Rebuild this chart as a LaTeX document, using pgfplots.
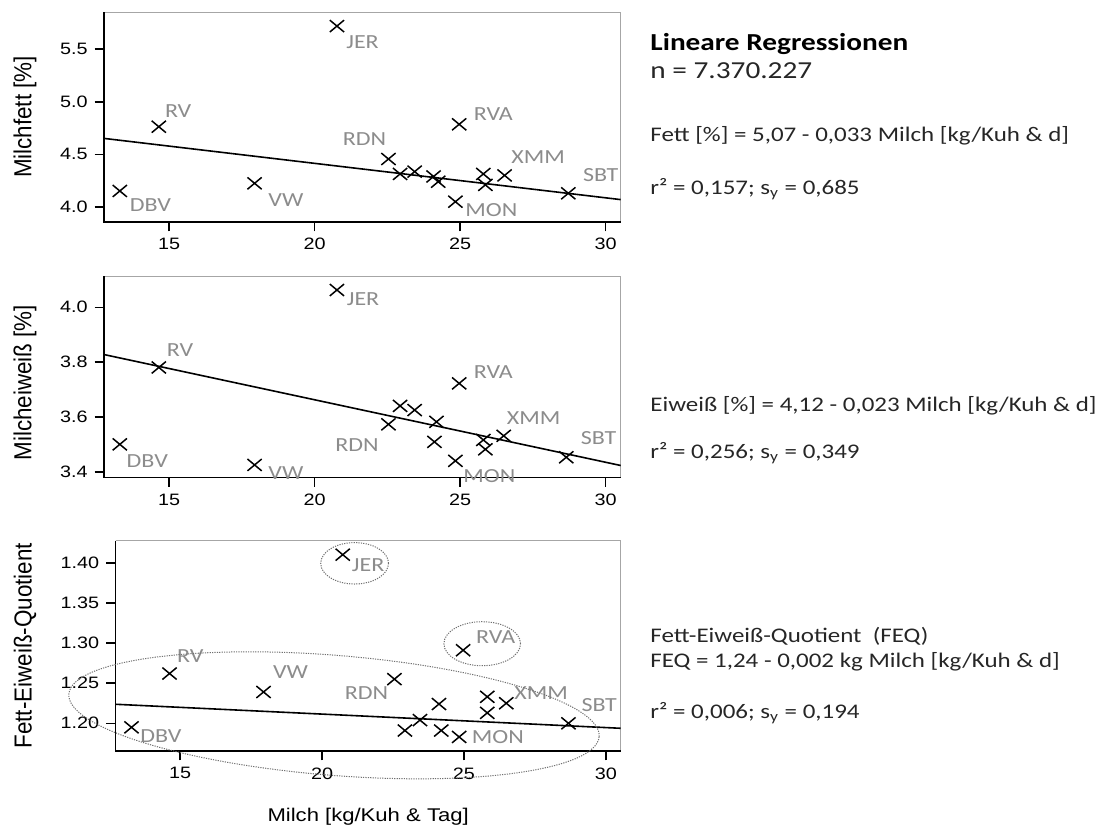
\documentclass[border=0pt]{standalone}
\usepackage{fontspec}
\usepackage{graphicx}
\usepackage{pgfplots}
\pgfplotsset{compat=1.18}
\setmainfont{Carlito}[FakeStretch=1.2]
\newfontfamily\arialS{Liberation Sans}[FakeStretch=1.2]
\newfontfamily\arialN{Liberation Sans}
\definecolor{labgray}{HTML}{8C8C8C}
\definecolor{boxgray}{HTML}{A6A6A6}
\definecolor{ellgray}{HTML}{707070}
\definecolor{txt}{HTML}{262626}

\newcommand{\lab}[6]{\node[anchor=#3, inner sep=0pt, xshift={#4*0.5pt}, yshift={-#5*0.5pt}, text=labgray, font=\fontsize{10}{12}\selectfont] at (axis cs:#1,#2) {#6};}
\newcommand{\boxit}{%
  \draw[boxgray, line width=0.5pt] (rel axis cs:0,1) -- (rel axis cs:1,1) -- (rel axis cs:1,0);
  \draw[black, line width=0.8pt] (rel axis cs:0,1) -- (rel axis cs:0,0) -- (rel axis cs:1,0);}
\newcommand{\ylab}[1]{\scalebox{1}[1.1]{\arialN\fontsize{11.2}{13}\selectfont #1}}

\pgfplotsset{panel/.style={
  scale only axis, axis line style={draw=none}, clip=false,
  tick align=outside, xtick pos=bottom, ytick pos=left,
  major tick length=4.7pt,
  every tick/.style={black, line width=0.8pt},
  tick label style={font=\arialS\fontsize{8.25}{10}\selectfont, text=black},
  /pgf/number format/assume math mode=true,
  xtick={15,20,25,30}, xticklabels={15,20,25,30},
  ylabel style={at={(rel axis cs:0,0.5)}, anchor=center},
}}
\tikzset{pts/.style={only marks, mark=x, mark size=4.2pt, black, mark options={xscale=1.2, line width=0.75pt}},
         reg/.style={black, line width=0.8pt, no marks}}

\begin{document}
\begin{tikzpicture}
\path[use as bounding box] (0,0) rectangle (553pt,-415pt);

% Panel 1
\begin{axis}[panel, at={(52pt,-6pt)}, anchor=north west,
  width=258.35pt, height=105pt,
  xmin=12.766, xmax=30.52, ymin=3.857, ymax=5.854,
  ytick={4.0,4.5,5.0,5.5}, yticklabels={4.0,4.5,5.0,5.5},
  ylabel={\ylab{Milchfett [\%]}},
  ylabel style={yshift=39.5pt}]
\boxit
\addplot[reg] coordinates {(12.766,4.652) (30.52,4.07)};
\addplot[pts] coordinates {
(13.31,4.152) (14.65,4.763) (17.94,4.225) (20.77,5.72) (22.54,4.456)
(22.94,4.314) (23.44,4.336) (24.09,4.29) (24.25,4.24) (24.84,4.05)
(24.97,4.786) (25.80,4.314) (25.87,4.21) (26.53,4.30) (28.72,4.13)};
\lab{20.77}{5.72}{base west}{9}{22.6}{JER}
\lab{14.65}{4.763}{base west}{5.8}{-9.7}{RV}
\lab{13.31}{4.152}{base west}{9.6}{20.7}{DBV}
\lab{17.94}{4.225}{base west}{13.5}{23.4}{VW}
\lab{22.54}{4.456}{base east}{-1.9}{-14}{RDN}
\lab{24.97}{4.786}{base west}{14.2}{-4.3}{RVA}
\lab{26.53}{4.30}{base west}{6.5}{-11.7}{XMM}
\lab{28.72}{4.13}{base west}{14.4}{-11.6}{SBT}
\lab{24.84}{4.05}{base west}{9.6}{14.3}{MON}
\end{axis}

% Panel 2
\begin{axis}[panel, at={(52pt,-138pt)}, anchor=north west,
  width=258.35pt, height=100.65pt,
  xmin=12.766, xmax=30.52, ymin=3.381, ymax=4.114,
  ytick={3.4,3.6,3.8,4.0}, yticklabels={3.4,3.6,3.8,4.0},
  ylabel={\ylab{Milcheiweiß [\%]}},
  ylabel style={yshift=39.5pt, xshift=-3pt}]
\boxit
\addplot[reg] coordinates {(12.766,3.828) (30.52,3.424)};
\addplot[pts] coordinates {
(13.31,3.501) (14.65,3.781) (17.94,3.426) (20.77,4.063) (22.54,3.574)
(22.94,3.641) (23.44,3.626) (24.19,3.583) (24.12,3.510) (24.84,3.441)
(24.97,3.723) (25.80,3.517) (25.87,3.483) (26.50,3.532) (28.65,3.454)};
\lab{20.77}{4.063}{base west}{9.5}{15}{JER}
\lab{14.65}{3.781}{base west}{7.7}{-10.6}{RV}
\lab{13.31}{3.501}{base west}{6.5}{23}{DBV}
\lab{17.94}{3.426}{base west}{13.5}{15}{VW}
\lab{22.54}{3.574}{base east}{-9.5}{26.7}{RDN}
\lab{24.97}{3.723}{base west}{14.2}{-5}{RVA}
\lab{26.50}{3.532}{base west}{2.7}{-11.7}{XMM}
\lab{28.65}{3.454}{base west}{14.3}{-12.3}{SBT}
\lab{24.84}{3.441}{base west}{7.6}{22}{MON}
\end{axis}

% Panel 3
\begin{axis}[panel, at={(57.8pt,-270.35pt)}, anchor=north west,
  width=252.55pt, height=105.15pt,
  xmin=12.73, xmax=30.52, ymin=1.1655, ymax=1.4274,
  ytick={1.20,1.25,1.30,1.35,1.40}, yticklabels={1.20,1.25,1.30,1.35,1.40},
  ylabel={\ylab{Fett-Eiweiß-Quotient}},
  ylabel style={yshift=45.3pt},
  xlabel={\arialS\fontsize{9.2}{11}\selectfont Milch [kg/Kuh \& Tag]},
  xlabel style={at={(rel axis cs:0.5,0)}, anchor=base, yshift=-35.35pt}]
\boxit
\addplot[reg] coordinates {(12.73,1.2237) (30.52,1.1938)};
\addplot[pts] coordinates {
(13.29,1.195) (14.63,1.262) (17.94,1.239) (20.73,1.410) (22.55,1.255)
(22.92,1.191) (23.45,1.204) (24.12,1.224) (24.20,1.191) (24.83,1.183)
(24.97,1.291) (25.82,1.233) (25.82,1.213) (26.49,1.225) (28.68,1.200)};
\lab{20.73}{1.410}{base west}{8.8}{16.7}{JER}
\lab{14.63}{1.262}{base west}{7.3}{-11.3}{RV}
\lab{13.29}{1.195}{base west}{8.4}{15.4}{DBV}
\lab{17.94}{1.239}{base west}{9.2}{-13.4}{VW}
\lab{22.55}{1.255}{base east}{-5.8}{20.7}{RDN}
\lab{24.97}{1.291}{base west}{12.7}{-6.7}{RVA}
\lab{26.49}{1.225}{base west}{7.7}{-3.3}{XMM}
\lab{28.68}{1.200}{base west}{12.7}{-11.6}{SBT}
\lab{24.83}{1.183}{base west}{12.3}{6.7}{MON}
\end{axis}

\begin{scope}[x=0.5pt,y=-0.5pt]
\draw[ellgray, line width=0.5pt, dash pattern=on 0.6pt off 0.6pt] (354.6,563.3) ellipse [x radius=16.95pt, y radius=10.35pt];
\draw[ellgray, line width=0.5pt, dash pattern=on 0.6pt off 0.6pt] (482.2,643.7) ellipse [x radius=19.15pt, y radius=11pt];
\draw[ellgray, line width=0.5pt, dash pattern=on 0.6pt off 0.6pt, rotate around={-4.6:(334,715.3)}] (334,715.3) ellipse [x radius=133pt, y radius=30pt];

\begin{scope}[every node/.style={anchor=base west, inner sep=0pt, text=txt, font=\fontsize{10.4}{12}\selectfont}]
\node[text=black, font=\fontsize{12.2}{14}\selectfont\bfseries] at (650,50.7) {Lineare Regressionen};
\node[font=\fontsize{12.2}{14}\selectfont] at (650,78) {n = 7.370.227};
\node at (650,141) {Fett [\%] = 5,07 - 0,033 Milch [kg/Kuh \& d]};
\node at (650,194) {r² = 0,157; s\textsubscript{y} = 0,685};
\node at (650,411) {Eiweiß [\%] = 4,12 - 0,023 Milch [kg/Kuh \& d]};
\node at (650,458) {r² = 0,256; s\textsubscript{y} = 0,349};
\node at (650,642) {Fett-Eiweiß-Quotient\ \ (FEQ)};
\node at (650,667) {FEQ = 1,24 - 0,002 kg Milch [kg/Kuh \& d]};
\node at (650,718) {r² = 0,006; s\textsubscript{y} = 0,194};
\end{scope}
\end{scope}
\end{tikzpicture}
\end{document}
